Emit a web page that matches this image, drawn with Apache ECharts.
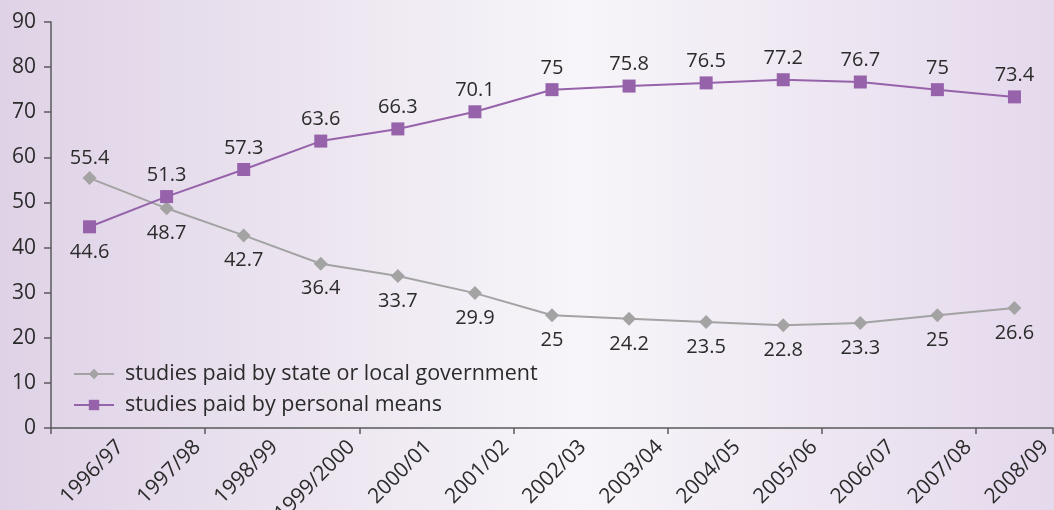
<!DOCTYPE html>
<html>
<head>
<meta charset="utf-8">
<script src="https://cdn.jsdelivr.net/npm/echarts@6/dist/echarts.min.js"></script>
<style>
  html, body { margin: 0; padding: 0; }
  #chart { width: 1054px; height: 510px; }
</style>
</head>
<body>
<div id="chart"></div>
<script>
// Academic years on the horizontal axis
const years = ['1996/97', '1997/98', '1998/99', '1999/2000', '2000/01', '2001/02', '2002/03',
               '2003/04', '2004/05', '2005/06', '2006/07', '2007/08', '2008/09'];
// Share of studies (%) by source of funding
const stateFunded = [55.4, 48.7, 42.7, 36.4, 33.7, 29.9, 25, 24.2, 23.5, 22.8, 23.3, 25, 26.6];
const personalFunded = [44.6, 51.3, 57.3, 63.6, 66.3, 70.1, 75, 75.8, 76.5, 77.2, 76.7, 75, 73.4];
const yTicks = [0, 10, 20, 30, 40, 50, 60, 70, 80, 90];

const FONT = '"Open Sans"';
const TEXT = '#2b2b2b';
const AXIS = '#5a595c';
const GREY = '#a3a3a3';
const PURPLE = '#9662aa';

const chart = echarts.init(document.getElementById('chart'));

// Year labels sit at the band boundaries, to the right of each band's point
const yearLabelAxis = [''].concat(years);

// The first year's labels swap sides, since the two lines cross right after it
function withLabelSides(values, firstPos, firstDist) {
  return values.map(function (v, i) {
    return i === 0 ? { value: v, label: { position: firstPos, distance: firstDist } } : v;
  });
}

chart.setOption({
  backgroundColor: new echarts.graphic.LinearGradient(0, 0, 1, 0, [
    { offset: 0, color: '#dfd2e6' },
    { offset: 0.55, color: '#f7f5f9' },
    { offset: 1, color: '#e5d9ec' }
  ]),
  animation: false,
  textStyle: { fontFamily: FONT },
  grid: { left: 51, right: 1, top: 22, bottom: 82, containLabel: false, outerBoundsMode: 'none' },
  legend: {
    orient: 'vertical',
    left: 68,
    top: 358,
    itemWidth: 40,
    itemHeight: 13,
    itemGap: 9,
    textStyle: { fontFamily: FONT, fontSize: 21.5, color: TEXT, padding: [0, 0, 0, 6] },
    data: ['studies paid by state or local government', 'studies paid by personal means']
  },
  xAxis: [
    {
      type: 'category',
      data: years,
      boundaryGap: true,
      axisLine: { lineStyle: { color: AXIS, width: 1.5 } },
      axisTick: { show: true, length: 6, lineStyle: { color: AXIS, width: 1.5 } },
      axisLabel: { show: false }
    },
    {
      type: 'category',
      data: yearLabelAxis,
      boundaryGap: false,
      position: 'bottom',
      axisLine: { show: false },
      axisTick: { show: false },
      axisLabel: {
        rotate: 45,
        margin: 8,
        padding: [0, 11, 0, 0],
        interval: 0,
        fontFamily: FONT,
        fontSize: 21,
        color: TEXT
      }
    }
  ],
  yAxis: {
    type: 'value',
    min: 0,
    max: 90,
    interval: 10,
    splitLine: { show: false },
    axisLine: { show: true, lineStyle: { color: AXIS, width: 1.5 } },
    axisTick: { show: true, length: 7, lineStyle: { color: AXIS, width: 1.5 } },
    axisLabel: {
      margin: 15,
      fontFamily: FONT,
      fontSize: 21,
      color: TEXT,
      formatter: function (v) { return yTicks.indexOf(v) >= 0 ? String(v) : ''; }
    }
  },
  series: [
    {
      name: 'studies paid by state or local government',
      type: 'line',
      xAxisIndex: 0,
      data: withLabelSides(stateFunded, 'top', 3),
      symbol: 'diamond',
      symbolSize: 14,
      itemStyle: { color: GREY },
      lineStyle: { color: GREY, width: 2 },
      label: {
        show: true,
        position: 'bottom',
        distance: 8,
        fontFamily: FONT,
        fontSize: 20,
        color: TEXT
      }
    },
    {
      name: 'studies paid by personal means',
      type: 'line',
      xAxisIndex: 0,
      data: withLabelSides(personalFunded, 'bottom', 9),
      symbol: 'rect',
      symbolSize: 13,
      itemStyle: { color: PURPLE },
      lineStyle: { color: PURPLE, width: 2 },
      label: {
        show: true,
        position: 'top',
        distance: 5,
        fontFamily: FONT,
        fontSize: 20,
        color: TEXT
      }
    }
  ]
});
</script>
</body>
</html>
